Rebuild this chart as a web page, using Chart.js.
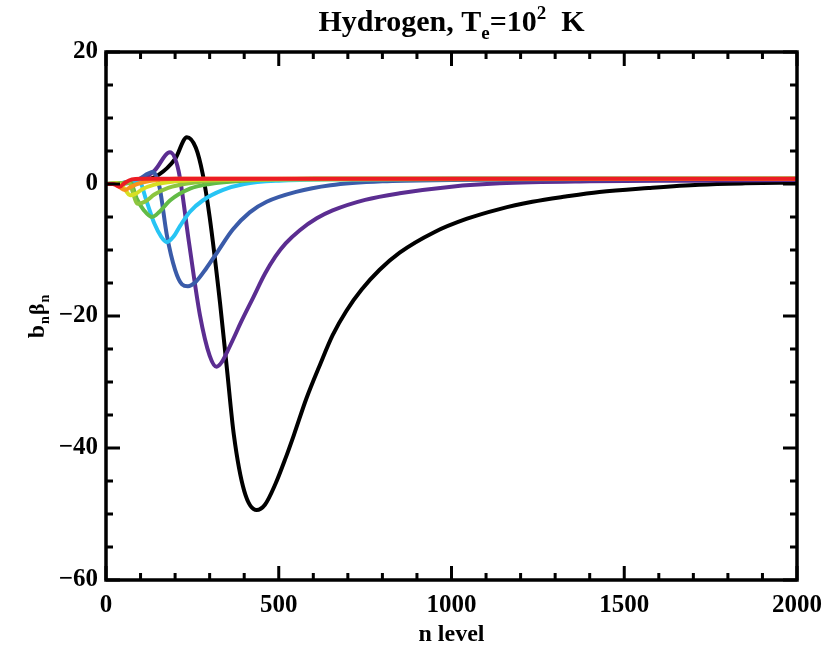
<!DOCTYPE html>
<html>
<head>
<meta charset="utf-8">
<script src="https://cdn.jsdelivr.net/npm/chart.js@4.4.1/dist/chart.umd.min.js"></script>
<style>
  html, body { margin: 0; padding: 0; background: #fff; }
  #wrap { width: 837px; height: 649px; }
</style>
</head>
<body>
<div id="wrap"><canvas id="myChart" width="837" height="649"></canvas></div>
<script>
// n level samples and b_n*beta_n values, one pair per curve
const redN = [0, 20, 30, 40, 55, 75, 100, 2000];
const redB = [0, 0, -0.2, -0.4, 0.2, 0.7, 0.8, 0.8];

const orangeN = [0, 25, 40, 55, 70, 90, 130, 200, 2000];
const orangeB = [0, 0, -0.5, -0.9, -0.5, 0, 0.5, 0.8, 0.8];

const yellowN = [0, 30, 50, 70, 85, 105, 140, 200, 300, 2000];
const yellowB = [0, 0.1, -0.5, -1.7, -1.5, -0.8, -0.1, 0.4, 0.7, 0.8];

const limeN = [0, 40, 65, 92, 115, 140, 180, 240, 350, 600, 2000];
const limeB = [0, 0.1, 0.2, -3, -2.6, -1.6, -0.6, 0.1, 0.6, 0.8, 0.8];

const greenN = [0, 40, 70, 89, 110, 133, 155, 185, 243, 300, 400, 600, 2000];
const greenB = [0, 0.1, 0.3, -2.2, -4, -5, -4.2, -2.5, -0.7, 0, 0.5, 0.8, 0.8];

const cyanN = [0, 40, 70, 95, 118, 140, 160, 176, 195, 215, 243, 280, 339, 400, 500, 700, 1000, 2000];
const cyanB = [0, 0.1, 0.4, 0.5, -2.7, -6, -8, -8.8, -8, -6.3, -4.2, -2.5, -0.9, 0, 0.5, 0.7, 0.8, 0.8];

const blueN = [0, 50, 90, 136, 155, 176, 200, 220, 237, 260, 290, 320, 367, 416, 465, 550, 650, 800, 1000, 1300, 2000];
const blueB = [0, 0.1, 0.6, 1.8, -0.5, -7.7, -13, -15.2, -15.5, -14.8, -12.8, -10.5, -6.9, -4.3, -2.7, -1.2, -0.2, 0.4, 0.6, 0.7, 0.8];

const purpleN = [0, 50, 100, 140, 185, 210, 240, 272, 300, 320, 335, 350, 370, 390, 426, 460, 490, 520, 561, 610, 656, 750, 850, 1000, 1140, 1400, 1700, 2000];
const purpleB = [0, 0.1, 0.6, 2, 4.8, 2, -8.8, -19.9, -26, -27.7, -27, -25.5, -23.3, -21, -17.2, -13.6, -11, -9, -7, -5.2, -4, -2.4, -1.4, -0.4, 0.1, 0.4, 0.5, 0.6];

const blackN = [0, 50, 100, 150, 200, 234, 260, 280, 300, 330, 350, 370, 400, 436, 460, 490, 520, 544, 580, 620, 656, 696, 740, 792, 850, 950, 1043, 1139, 1234, 1330, 1428, 1570, 1717, 1850, 2000];
const blackB = [0, 0.1, 0.4, 1.3, 3.8, 7.1, 5.5, 1.5, -5, -18, -28, -38, -46.5, -49.4, -48.6, -45.5, -41.5, -38, -32.5, -27.3, -22.9, -19.2, -16, -13, -10.4, -7.3, -5.3, -3.8, -2.7, -1.9, -1.2, -0.6, -0.1, 0.1, 0.2];

const xTicks = [0, 500, 1000, 1500, 2000];
const yTicks = [-60, -40, -20, 0, 20];

const curve = (label, ns, bs, color) => ({
  label: label,
  data: ns.map((n, i) => ({ x: n, y: bs[i] })),
  borderColor: color,
  backgroundColor: color,
  borderWidth: 4,
  pointRadius: 0,
  fill: false,
  cubicInterpolationMode: 'monotone',
});

// frame with inward ticks on all four sides, like the IDL plot
const framePlugin = {
  id: 'frame',
  afterDatasetsDraw(chart) {
    const ctx = chart.ctx;
    const a = chart.chartArea;
    const xs = chart.scales.x;
    const ys = chart.scales.y;
    ctx.save();
    ctx.strokeStyle = '#000';
    ctx.lineWidth = 3;
    for (let v = 0; v <= 2000; v += 100) {
      const px = xs.getPixelForValue(v);
      const len = v % 500 === 0 ? 14 : 7;
      ctx.beginPath();
      ctx.moveTo(px, a.bottom); ctx.lineTo(px, a.bottom - len);
      ctx.moveTo(px, a.top); ctx.lineTo(px, a.top + len);
      ctx.stroke();
    }
    for (let v = -60; v <= 20; v += 5) {
      const py = ys.getPixelForValue(v);
      const len = v % 20 === 0 ? 14 : 7;
      ctx.beginPath();
      ctx.moveTo(a.left, py); ctx.lineTo(a.left + len, py);
      ctx.moveTo(a.right, py); ctx.lineTo(a.right - len, py);
      ctx.stroke();
    }
    ctx.lineWidth = 3.5;
    ctx.strokeRect(a.left, a.top, a.right - a.left, a.bottom - a.top);
    ctx.restore();
  },
  afterDraw(chart) {
    const ctx = chart.ctx;
    const a = chart.chartArea;
    ctx.save();
    ctx.fillStyle = '#000';
    ctx.textBaseline = 'alphabetic';
    // title with subscript and superscript
    const big = 'bold 30px "Liberation Serif"';
    const small = 'bold 19px "Liberation Serif"';
    const parts = [
      ['Hydrogen, T', big, 0],
      ['e', small, 8],
      ['=10', big, 0],
      ['2', small, -12],
      ['  K', big, 0],
    ];
    let total = 0;
    parts.forEach(p => { ctx.font = p[1]; total += ctx.measureText(p[0]).width; });
    let x = (a.left + a.right) / 2 - total / 2;
    parts.forEach(p => {
      ctx.font = p[1];
      ctx.fillText(p[0], x, 31 + p[2]);
      x += ctx.measureText(p[0]).width;
    });
    // x axis title
    ctx.font = 'bold 24px "Liberation Serif"';
    ctx.textAlign = 'center';
    ctx.fillText('n level', (a.left + a.right) / 2, 641);
    // y axis title, rotated
    ctx.translate(44, (a.top + a.bottom) / 2);
    ctx.rotate(-Math.PI / 2);
    ctx.textAlign = 'left';
    const yparts = [
      ['b', 'bold 24px "Liberation Serif"', 0],
      ['n', 'bold 14px "Liberation Serif"', 5],
      ['\u03B2', 'bold 22px "Liberation Serif"', 0],
      ['n', 'bold 14px "Liberation Serif"', 5],
    ];
    let w = 0;
    yparts.forEach(p => { ctx.font = p[1]; w += ctx.measureText(p[0]).width + 1; });
    let yx = -w / 2;
    yparts.forEach(p => {
      ctx.font = p[1];
      ctx.fillText(p[0], yx, p[2]);
      yx += ctx.measureText(p[0]).width + 1;
    });
    ctx.restore();
  },
};

const tickFont = { family: '"Liberation Serif"', size: 25, weight: 'bold' };

new Chart(document.getElementById('myChart').getContext('2d'), {
  type: 'line',
  data: {
    datasets: [
      curve('red', redN, redB, '#ec1c24'),
      curve('orange', orangeN, orangeB, '#f7941d'),
      curve('yellow', yellowN, yellowB, '#d7df23'),
      curve('lime', limeN, limeB, '#8dc63f'),
      curve('green', greenN, greenB, '#62bb46'),
      curve('cyan', cyanN, cyanB, '#27c4f4'),
      curve('blue', blueN, blueB, '#3a5ba9'),
      curve('purple', purpleN, purpleB, '#5b2d91'),
      curve('black', blackN, blackB, '#000000'),
    ],
  },
  options: {
    responsive: false,
    animation: false,
    layout: { padding: { left: 0, top: 52, right: 40, bottom: 0 } },
    plugins: { legend: { display: false }, tooltip: { enabled: false } },
    scales: {
      x: {
        type: 'linear',
        min: 0,
        max: 2000,
        afterFit: s => { s.height = 69; },
        afterBuildTicks: s => { s.ticks = xTicks.map(v => ({ value: v })); },
        grid: { display: false, drawTicks: false },
        border: { display: false },
        ticks: { color: '#000', font: tickFont, padding: 11, maxRotation: 0, callback: v => String(v) },
      },
      y: {
        type: 'linear',
        min: -60,
        max: 20,
        afterFit: s => { s.width = 106; },
        afterBuildTicks: s => { s.ticks = yTicks.map(v => ({ value: v })); },
        grid: { display: false, drawTicks: false },
        border: { display: false },
        ticks: {
          color: '#000',
          font: tickFont,
          padding: 8,
          callback: v => (v < 0 ? '\u2212' + Math.abs(v) : String(v)),
        },
      },
    },
  },
  plugins: [framePlugin],
});
</script>
</body>
</html>
